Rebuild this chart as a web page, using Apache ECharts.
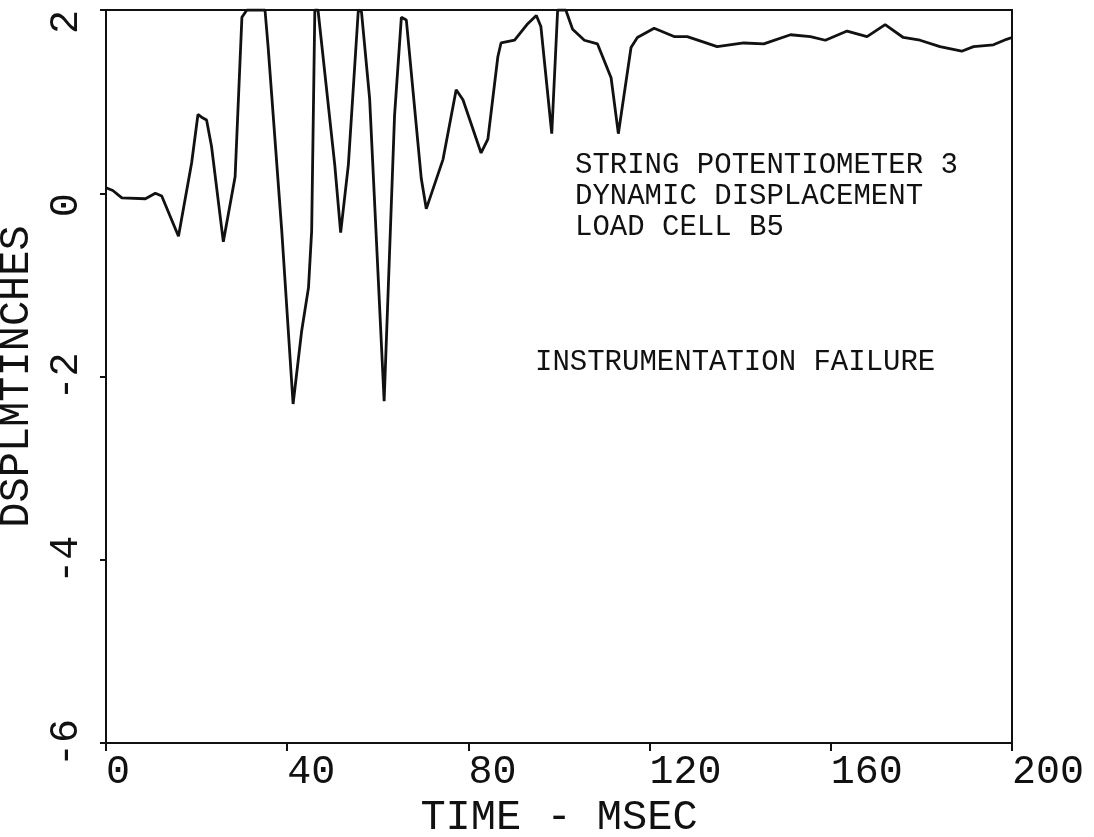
<!DOCTYPE html>
<html>
<head>
<meta charset="utf-8">
<style>
  html, body { margin: 0; padding: 0; background: #fff; }
  #chart { width: 1094px; height: 837px; }
</style>
<script src="https://cdn.jsdelivr.net/npm/echarts@6/dist/echarts.min.js"></script>
</head>
<body>
<div id="chart"></div>
<script>
// ---- data ----
const timeMs = [
  0.0, 1.5, 3.5, 8.7, 10.9, 12.3, 16.0, 18.9, 20.3, 21.1, 22.2, 23.3, 25.9, 28.5,
  30.0, 31.1, 35.1, 35.8, 38.8, 41.3, 43.2, 44.7, 45.4, 46.1, 46.8, 50.5, 51.8,
  53.5, 55.7, 56.4, 58.2, 61.4, 63.7, 65.2, 66.3, 69.6, 70.7, 74.4, 77.3, 78.8,
  82.8, 84.3, 86.5, 87.2, 90.2, 93.1, 95.0, 96.0, 98.4, 99.7, 101.5, 103.0,
  105.6, 108.5, 111.5, 113.1, 115.9, 117.3, 121.0, 125.4, 128.3, 131.3, 134.9,
  140.8, 145.2, 151.1, 155.5, 158.8, 163.6, 168.0, 172.0, 176.0, 179.7, 184.1,
  188.9, 191.5, 195.9, 198.8, 200.0
];
const displacementIn = [
  0.06, 0.03, -0.05, -0.06, 0.00, -0.03, -0.47, 0.33, 0.86, 0.83, 0.80, 0.51, -0.53, 0.18,
  1.92, 2.00, 2.00, 1.59, -0.41, -2.30, -1.50, -1.03, -0.41, 2.00, 2.00, 0.31, -0.43,
  0.31, 2.00, 1.98, 1.03, -2.27, 0.85, 1.92, 1.89, 0.16, -0.17, 0.37, 1.13, 1.02,
  0.44, 0.59, 1.49, 1.64, 1.67, 1.85, 1.94, 1.82, 0.65, 2.00, 2.00, 1.79,
  1.67, 1.63, 1.26, 0.65, 1.59, 1.70, 1.80, 1.71, 1.71, 1.66, 1.60,
  1.64, 1.63, 1.73, 1.71, 1.67, 1.77, 1.71, 1.84, 1.70, 1.67, 1.60,
  1.55, 1.60, 1.62, 1.68, 1.70
];
const xTicks = [0, 40, 80, 120, 160, 200];
const yTicks = [-6, -4, -2, 0, 2];
const xTitle = 'TIME - MSEC';
const yTitle = 'DSPLMTINCHES';
const noteLines = ['STRING POTENTIOMETER 3', 'DYNAMIC DISPLACEMENT', 'LOAD CELL B5'];
const failureNote = 'INSTRUMENTATION FAILURE';

const seriesData = timeMs.map((t, i) => [t, displacementIn[i]]);

const plotFont = '"Liberation Mono", "DejaVu Sans Mono", monospace';
const ink = '#111';

const chart = echarts.init(document.getElementById('chart'), null, { renderer: 'canvas' });
chart.setOption({
  backgroundColor: '#ffffff',
  animation: false,
  grid: {
    left: 106, right: 82, top: 10, bottom: 94,
    containLabel: false, outerBoundsMode: 'none',
    show: true, borderColor: ink, borderWidth: 2, backgroundColor: 'transparent'
  },
  xAxis: {
    type: 'value',
    min: xTicks[0], max: xTicks[xTicks.length - 1], interval: 40,
    name: xTitle, nameLocation: 'middle', nameGap: 48,
    nameTextStyle: { fontFamily: plotFont, fontSize: 42, color: ink },
    axisLine: { show: true, onZero: false, lineStyle: { color: ink, width: 2 } },
    axisTick: { show: true, inside: false, length: 8, lineStyle: { color: ink, width: 2 } },
    axisLabel: {
      show: true, align: 'left', margin: 9,
      fontFamily: plotFont, fontSize: 40, color: ink,
      formatter: v => String(v)
    },
    splitLine: { show: false }
  },
  yAxis: {
    type: 'value',
    min: yTicks[0], max: yTicks[yTicks.length - 1], interval: 2,
    name: yTitle, nameLocation: 'middle', nameGap: 52, nameRotate: 90,
    nameTextStyle: { fontFamily: plotFont, fontSize: 42, color: ink },
    axisLine: { show: true, onZero: false, lineStyle: { color: ink, width: 2 } },
    axisTick: { show: true, inside: false, length: 6, lineStyle: { color: ink, width: 2 } },
    axisLabel: {
      show: true, rotate: 90, margin: 20,
      fontFamily: plotFont, fontSize: 40, color: ink,
      formatter: v => (v >= 0 ? String(v) + ' ' : String(v))
    },
    splitLine: { show: false }
  },
  series: [{
    type: 'line',
    data: seriesData,
    showSymbol: false,
    smooth: false,
    clip: true,
    lineStyle: { color: ink, width: 2.8 }
  }],
  graphic: [
    {
      type: 'text', left: 575, top: 150,
      style: {
        text: noteLines.join('\n'),
        font: '29px ' + plotFont,
        lineHeight: 31,
        fill: ink
      }
    },
    {
      type: 'text', left: 535, top: 348,
      style: {
        text: failureNote,
        font: '29px ' + plotFont,
        fill: ink
      }
    }
  ]
});
</script>
</body>
</html>
